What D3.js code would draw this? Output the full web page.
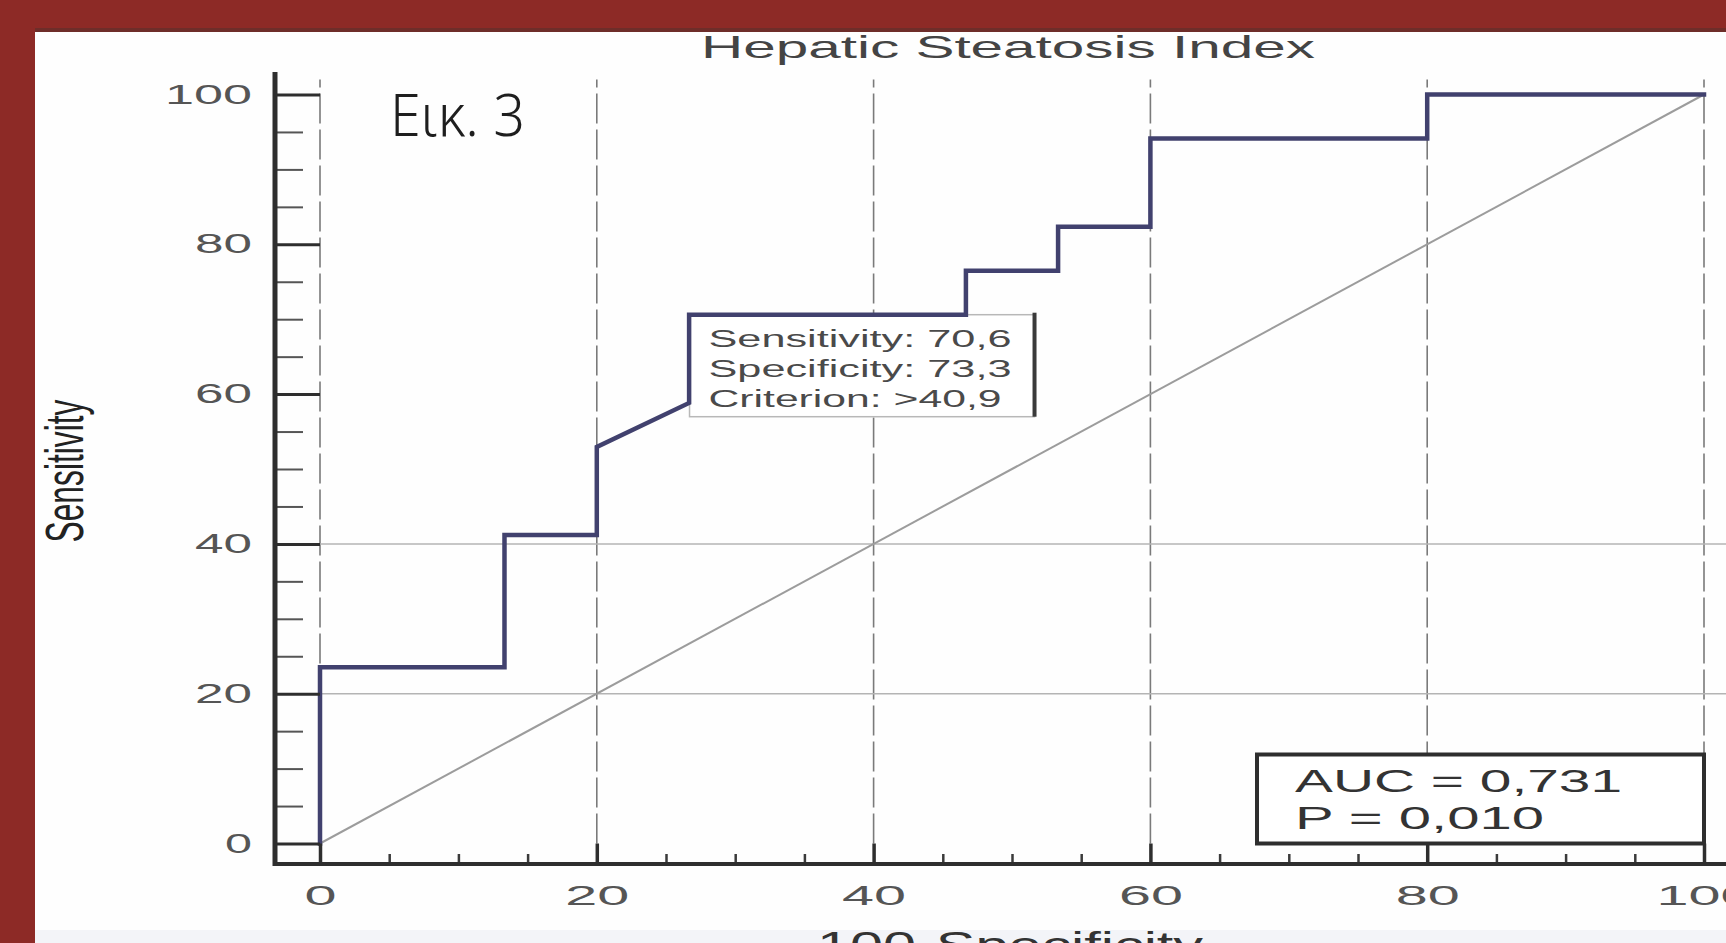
<!DOCTYPE html>
<html>
<head>
<meta charset="utf-8">
<script src="https://cdn.jsdelivr.net/npm/d3@7"></script>
<style>
  html, body { margin: 0; padding: 0; background: #fefefe; overflow: hidden; }
  svg { display: block; }
</style>
</head>
<body>
<svg id="chart" width="1726" height="943"></svg>
<script>
// ROC curve: 100-Specificity (false positive rate, %) vs Sensitivity (%)
const fpr  = [0, 0, 13.33, 13.33, 20, 20, 26.67, 26.67, 46.67, 46.67, 53.33, 53.33, 60, 60, 80, 80, 100];
const sens = [0, 23.53, 23.53, 41.18, 41.18, 52.94, 58.82, 70.59, 70.59, 76.47, 76.47, 82.35, 82.35, 94.12, 94.12, 100, 100];

// Optimal cut-off point
const cutSensitivity = 70.6;
const cutSpecificity = 73.3;
const cutCriterion = ">40,9";

const xTicks = [0, 20, 40, 60, 80, 100];
const yTicks = [0, 20, 40, 60, 80, 100];
const xMinor = d3.range(0, 101, 5).filter(v => v % 20 !== 0);
const yMinor = d3.range(0, 101, 5).filter(v => v % 20 !== 0);
const hGrid = [20, 40];

const title = "Hepatic Steatosis Index";
const xTitle = "100-Specificity";
const yTitle = "Sensitivity";
const figLabel = "Εικ. 3";
const statLines = ["AUC = 0,731", "P = 0,010"];
const cutLines = [
  "Sensitivity: " + String(cutSensitivity).replace(".", ","),
  "Specificity: " + String(cutSpecificity).replace(".", ","),
  "Criterion: " + cutCriterion
];

const W = 1726, H = 943;
const svg = d3.select("#chart");
const FONT = "'Liberation Sans', Arial, sans-serif";

const x = d3.scaleLinear().domain([0, 100]).range([320, 1704]);
const y = d3.scaleLinear().domain([0, 100]).range([843.5, 94.5]);

const xAxisY = 864;   // x axis line, offset below the plot
const yAxisX = 275;   // y axis line, offset left of the plot

// page background and frame
svg.append("rect").attr("width", W).attr("height", H).attr("fill", "#fefefe");
svg.append("rect").attr("x", 0).attr("y", 930).attr("width", W).attr("height", 13).attr("fill", "#f3f4f8");

// grid
const grid = svg.append("g");
grid.selectAll("line.v").data(xTicks).join("line")
  .attr("x1", d => x(d)).attr("x2", d => x(d))
  .attr("y1", y(0)).attr("y2", y(102))
  .attr("stroke", "#7a7a7a").attr("stroke-width", 1.6)
  .attr("stroke-dasharray", "30,6");
grid.selectAll("line.h").data(hGrid).join("line")
  .attr("x1", x(0)).attr("x2", W)
  .attr("y1", d => y(d)).attr("y2", d => y(d))
  .attr("stroke", "#b4b4b4").attr("stroke-width", 1.5);

// reference diagonal
svg.append("line")
  .attr("x1", x(0)).attr("y1", y(0)).attr("x2", x(100)).attr("y2", y(100))
  .attr("stroke", "#9c9c9c").attr("stroke-width", 2);

// cut-off label box, anchored at the cut-off point
const cx = x(100 - cutSpecificity), cy = y(cutSensitivity);
const boxW = 345, boxH = 102;
svg.append("rect").attr("x", cx).attr("y", cy).attr("width", boxW).attr("height", boxH)
  .attr("fill", "#ffffff").attr("stroke", "#b8b8b8").attr("stroke-width", 1.5);
svg.append("line").attr("x1", cx + boxW).attr("x2", cx + boxW).attr("y1", cy - 2).attr("y2", cy + boxH)
  .attr("stroke", "#3a3a3a").attr("stroke-width", 4);
svg.append("g").selectAll("text").data(cutLines).join("text")
  .attr("x", cx + 19).attr("y", (d, i) => cy + 32 + i * 30)
  .attr("font-family", FONT).attr("font-size", 23).attr("fill", "#4a4a4a")
  .attr("textLength", (d, i) => i === 2 ? 293 : 303)
  .attr("lengthAdjust", "spacingAndGlyphs")
  .text(d => d);

// AUC box, anchored at the lower-right corner of the plot
const aW = 447, aH = 89;
svg.append("rect").attr("x", x(100) - aW).attr("y", y(0) - aH).attr("width", aW).attr("height", aH)
  .attr("fill", "#ffffff").attr("stroke", "#2e2e2e").attr("stroke-width", 4);
svg.append("g").selectAll("text").data(statLines).join("text")
  .attr("x", x(100) - aW + 38).attr("y", (d, i) => y(0) - aH + 37 + i * 37)
  .attr("font-family", FONT).attr("font-size", 31).attr("fill", "#333")
  .attr("textLength", (d, i) => i === 0 ? 327 : 249)
  .attr("lengthAdjust", "spacingAndGlyphs")
  .text(d => d);

// ROC curve
const pts = fpr.map((v, i) => [v, sens[i]]);
svg.append("path").datum(pts)
  .attr("d", d3.line().x(d => x(d[0])).y(d => y(d[1])))
  .attr("fill", "none").attr("stroke", "#41416e").attr("stroke-width", 4.5)
  .attr("stroke-linejoin", "miter").attr("stroke-linecap", "square");

// y axis: major ticks reach the plot edge, minor ticks are shorter
const yAxisG = svg.append("g").attr("transform", `translate(${yAxisX},0)`);
yAxisG.append("g").call(d3.axisLeft(y).tickValues(yMinor).tickSize(-28).tickFormat(""))
  .call(g => g.select(".domain").remove())
  .call(g => g.selectAll("line").attr("stroke", "#555").attr("stroke-width", 2));
yAxisG.append("g").call(d3.axisLeft(y).tickValues(yTicks).tickSize(-(x(0) - yAxisX)).tickPadding(23).tickFormat(d3.format("d")))
  .call(g => g.select(".domain").remove())
  .call(g => g.selectAll("line").attr("stroke", "#2e2e2e").attr("stroke-width", 3))
  .call(g => g.selectAll("text")
    .attr("font-family", FONT).attr("font-size", 27).attr("fill", "#555")
    .attr("textLength", d => String(d).length * 30 - 3)
    .attr("lengthAdjust", "spacingAndGlyphs"));
svg.append("line").attr("x1", yAxisX).attr("x2", yAxisX).attr("y1", 72).attr("y2", xAxisY + 2)
  .attr("stroke", "#2e2e2e").attr("stroke-width", 5);

// x axis
const xAxisG = svg.append("g").attr("transform", `translate(0,${xAxisY})`);
xAxisG.append("g").call(d3.axisBottom(x).tickValues(xMinor).tickSize(-10).tickFormat(""))
  .call(g => g.select(".domain").remove())
  .call(g => g.selectAll("line").attr("stroke", "#3a3a3a").attr("stroke-width", 2.5));
xAxisG.append("g").call(d3.axisBottom(x).tickValues(xTicks).tickSize(-(xAxisY - y(0))).tickPadding(21).tickFormat(d3.format("d")))
  .call(g => g.select(".domain").remove())
  .call(g => g.selectAll("line").attr("stroke", "#2e2e2e").attr("stroke-width", 3.5))
  .call(g => g.selectAll("text")
    .attr("font-family", FONT).attr("font-size", 28).attr("fill", "#555")
    .attr("textLength", d => String(d).length * 32)
    .attr("lengthAdjust", "spacingAndGlyphs"));
svg.append("line").attr("x1", yAxisX - 2).attr("x2", W).attr("y1", xAxisY).attr("y2", xAxisY)
  .attr("stroke", "#2e2e2e").attr("stroke-width", 4);

// titles
svg.append("text").attr("x", 1008).attr("y", 58).attr("text-anchor", "middle")
  .attr("font-family", FONT).attr("font-size", 32).attr("fill", "#444")
  .attr("textLength", 614).attr("lengthAdjust", "spacingAndGlyphs")
  .text(title);
svg.append("text").attr("x", 1010).attr("y", 958).attr("text-anchor", "middle")
  .attr("font-family", FONT).attr("font-size", 36).attr("fill", "#333")
  .attr("textLength", 386).attr("lengthAdjust", "spacingAndGlyphs")
  .text(xTitle);
svg.append("text")
  .attr("transform", "translate(83,471) rotate(-90)")
  .attr("text-anchor", "middle")
  .attr("font-family", FONT).attr("font-size", 54).attr("fill", "#222")
  .attr("textLength", 143).attr("lengthAdjust", "spacingAndGlyphs")
  .text(yTitle);
svg.append("text").attr("x", 390).attr("y", 136)
  .attr("font-family", "'Noto Sans', 'Liberation Sans', sans-serif").attr("font-weight", 300)
  .attr("font-size", 58).attr("fill", "#1e1e1e")
  .attr("textLength", 135).attr("lengthAdjust", "spacingAndGlyphs")
  .text(figLabel);

// dark red frame along the top and left edges
svg.append("rect").attr("x", 0).attr("y", 0).attr("width", W).attr("height", 32).attr("fill", "#8d2a26");
svg.append("rect").attr("x", 0).attr("y", 28).attr("width", W).attr("height", 4).attr("fill", "#6e2d29");
svg.append("rect").attr("x", 0).attr("y", 0).attr("width", 35).attr("height", H).attr("fill", "#8d2a26");
</script>
</body>
</html>
